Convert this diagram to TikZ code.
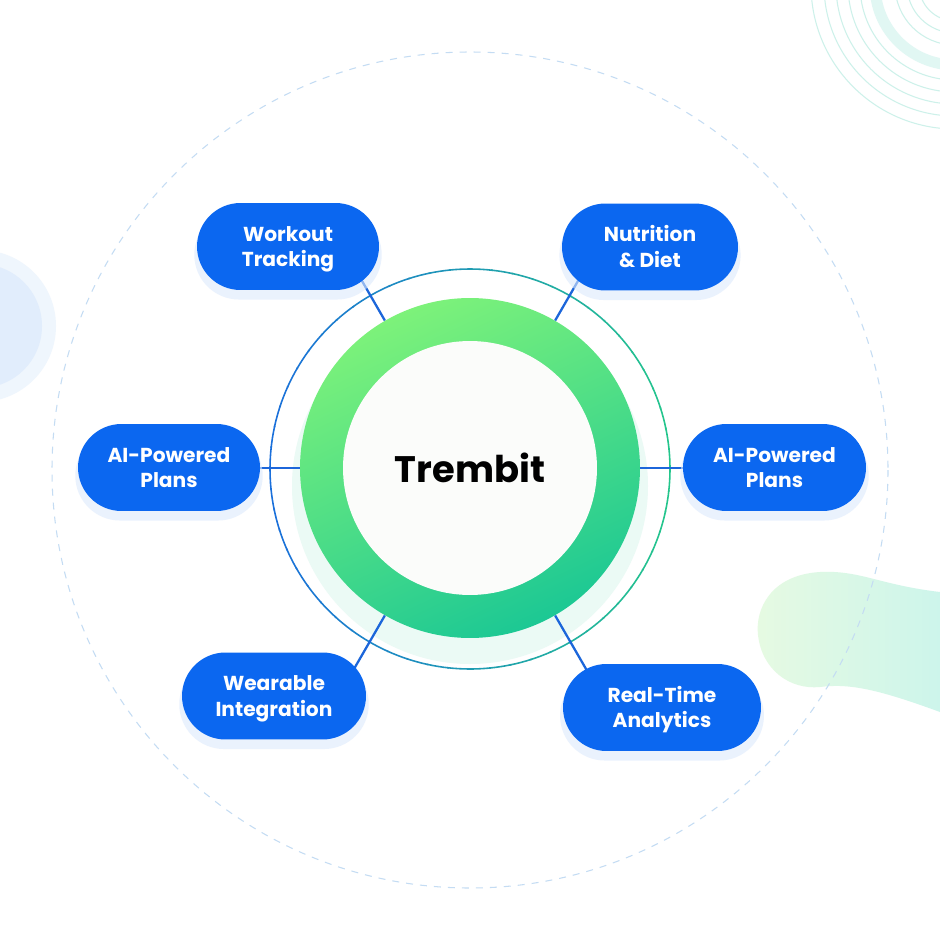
\documentclass[tikz,border=0pt]{standalone}
\usepackage{fontspec}
\setmainfont{Poppins}
\usetikzlibrary{positioning, calc, shadows}

\definecolor{pillblue}{HTML}{0B67F0}
\definecolor{linkblue}{HTML}{1C66DA}
\definecolor{ringlight}{HTML}{7DF27A}
\definecolor{ringdark}{HTML}{1CC894}
\definecolor{thinblue}{HTML}{1A6FDB}
\definecolor{thingreen}{HTML}{24C68C}
\definecolor{dashblue}{HTML}{C4DCF3}
\definecolor{mintpale}{HTML}{CDF5EB}
\definecolor{limepale}{HTML}{E6FAE2}
\definecolor{bluepale}{HTML}{DCEAFB}
\definecolor{tealarc}{HTML}{CDF1EA}
\definecolor{corewhite}{HTML}{FBFCFA}

\begin{document}
\begin{tikzpicture}[x=0.02cm, y=-0.02cm,
  pill/.style={fill=pillblue, text=white, rounded corners=0.87cm, minimum width=3.64cm, minimum height=1.74cm,
    align=center, inner sep=0pt, text height=23pt, text depth=0pt, font=\fontsize{11.5}{14.4}\selectfont\bfseries,
    drop shadow={fill=pillblue!14, opacity=0.6, shadow xshift=0cm, shadow yshift=-0.16cm, shadow scale=1.03}},
  link/.style={draw=linkblue, line width=1.3pt},
  thin/.style={line width=0.9pt}
]
\useasboundingbox (0,0) rectangle (940,936);
\fill[white] (0,0) rectangle (940,936);

% soft shapes in the background
\begin{scope}
\clip (0,0) rectangle (940,936);
\foreach \r in {144,131,119,107,95,60,48,36}
  \draw[tealarc, line width=0.6pt] (955,-15) circle (\r);
\draw[tealarc!60, line width=0.22cm] (955,-15) circle (80);
\fill[bluepale!45] (-20,326) circle (76);
\fill[bluepale!85] (-20,326) circle (62);
\shade[left color=limepale, right color=mintpale]
  (940,592) .. controls (880,585) and (860,570) .. (820,572)
  .. controls (770,575) and (755,610) .. (758,635)
  .. controls (762,670) and (790,690) .. (820,687)
  .. controls (850,683) and (880,690) .. (940,712) -- cycle;
\draw[dashblue, line width=0.6pt, dash pattern=on 0.14cm off 0.14cm] (470,470) circle (418);
\end{scope}

% glow under the ring
\fill[ringdark!9] (470,486) circle (178);

% thin outer ring, blue to green
\foreach \a in {0,6,...,354}{
  \pgfmathsetmacro\p{50+50*cos(\a+3)}
  \draw[thin, draw=thingreen!\p!thinblue] (470,469) ++(\a:200) arc[start angle=\a, end angle=\a+6.5, radius=200];
}

\node[circle, minimum size=6.8cm, inner sep=0pt, top color=ringlight, bottom color=ringdark, shading angle=25] (ring) at (470,468) {};
\node[circle, minimum size=5.08cm, inner sep=0pt, fill=corewhite, font=\fontsize{21}{25}\selectfont\bfseries] (core) at (ring.center) {Trembit};

% spokes
\foreach \ang/\nm in {120/workout, 60/nutrition, 180/aileft, 0/airight, 240/wearable, 300/realtime}{
  \coordinate (\nm-in) at ($(ring.center)!1.55!(ring.\ang)$);
  \draw[link] (ring.\ang) -- (\nm-in);
}

\node[pill] (workout) at (288,246.5) {Workout\\Tracking};
\node[pill, minimum width=3.52cm] (nutrition) at (650,247) {Nutrition\\\& Diet};
\node[pill] (aileft) at (169,467.5) {AI-Powered\\Plans};
\node[pill, minimum width=3.66cm] (airight) at (774.5,467.5) {AI-Powered\\Plans};
\node[pill, minimum width=3.68cm] (wearable) at (274,696) {Wearable\\Integration};
\node[pill, minimum width=3.96cm] (realtime) at (662,707.5) {Real-Time\\Analytics};
\end{tikzpicture}
\end{document}
